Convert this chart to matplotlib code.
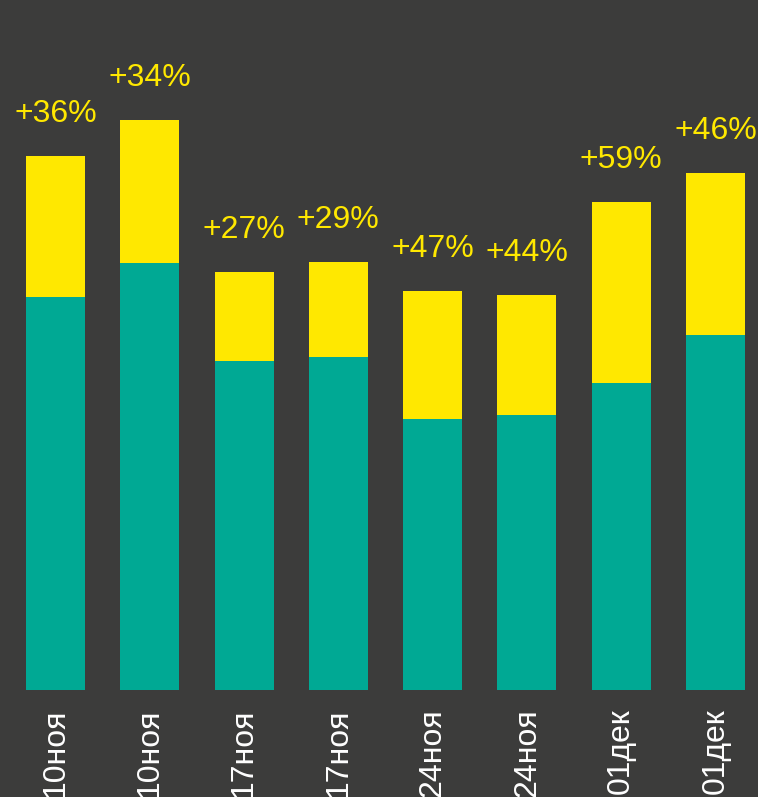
import matplotlib.pyplot as plt
import numpy as np

plt.rcParams['font.family'] = ['Liberation Sans', 'DejaVu Sans']

dates = ["10ноя", "10ноя", "17ноя", "17ноя", "24ноя", "24ноя", "01дек", "01дек"]
base = [393, 427, 329, 333, 271, 275, 307, 355]
extra = [141, 143, 89, 95, 128, 120, 181, 162]
growth = ["+36%", "+34%", "+27%", "+29%", "+47%", "+44%", "+59%", "+46%"]

bg = "#3c3c3b"
teal = "#00a994"
yellow = "#ffe800"

fig = plt.figure(figsize=(7.58, 7.97), dpi=100, facecolor=bg)
ax = fig.add_axes([0, 107 / 797, 1, 690 / 797])
ax.set_facecolor(bg)

x = np.arange(len(dates))
ax.bar(x, base, width=0.625, color=teal)
ax.bar(x, extra, width=0.625, bottom=base, color=yellow)

for xi, b, e, g in zip(x, base, extra, growth):
    ax.text(xi, b + e + 42, g, ha='center', va='center', color=yellow, fontsize=23)

ax.set_xlim(-55.5 / 94.29, (758 - 55.5) / 94.29)
ax.set_ylim(0, 690)
ax.set_xticks(x)
ax.set_xticklabels(dates, rotation=90, color='white', fontsize=23)
ax.tick_params(axis='x', length=0, pad=13)
ax.set_yticks([])
for s in ax.spines.values():
    s.set_visible(False)

fig.savefig("out.png", dpi=100, facecolor=bg)
